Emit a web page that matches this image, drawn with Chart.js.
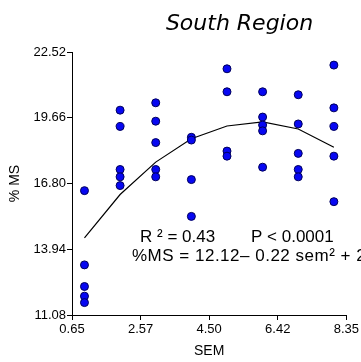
<!DOCTYPE html>
<html>
<head>
<meta charset="utf-8">
<script src="https://cdn.jsdelivr.net/npm/chart.js@4/dist/chart.umd.min.js"></script>
<style>
  html, body { margin: 0; padding: 0; background: #ffffff; }
  #wrap { width: 361px; height: 362px; }
</style>
</head>
<body>
<div id="wrap"><canvas id="c" width="361" height="362"></canvas></div>
<script>
// Observed %MS for each SEM score
const semObs = [1, 1, 1, 1, 1,
                2, 2, 2, 2, 2,
                3, 3, 3, 3, 3,
                4, 4, 4, 4,
                5, 5, 5, 5,
                6, 6, 6, 6, 6,
                7, 7, 7, 7, 7,
                8, 8, 8, 8, 8];
const msObs = [16.49, 13.26, 12.32, 11.90, 11.62,
               19.99, 19.28, 17.41, 17.09, 16.71,
               20.31, 19.51, 18.58, 17.41, 17.09,
               18.81, 18.69, 16.97, 15.37,
               21.79, 20.79, 18.21, 17.99,
               20.79, 19.69, 19.34, 19.09, 17.51,
               20.66, 19.39, 18.11, 17.41, 17.09,
               21.95, 20.09, 19.28, 17.99, 16.01];

// Quadratic fit evaluated at each SEM score
const fitSem = [1, 2, 3, 4, 5, 6, 7, 8];
const fitMs = [14.43, 16.32, 17.73, 18.75, 19.30, 19.48, 19.17, 18.38];

// Axis ticks
const xTickValues = [0.65, 2.575, 4.50, 6.425, 8.35];
const xTickLabels = ['0.65', '2.57', '4.50', '6.42', '8.35'];
const yTickValues = [11.08, 13.94, 16.80, 19.66, 22.52];
const yTickLabels = ['11.08', '13.94', '16.80', '19.66', '22.52'];

const titleText = 'South Region';
const statLine1a = 'R \u00B2 = 0.43';
const statLine1b = 'P < 0.0001';
const statLine2 = '%MS = 12.12\u2013 0.22 sem\u00B2 + 2.54 sem';

const FONT = '"Liberation Sans", Arial, Helvetica, sans-serif';

const scatterPoints = semObs.map((x, i) => ({ x: x, y: msObs[i] }));
const fitPoints = fitSem.map((x, i) => ({ x: x, y: fitMs[i] }));

// Title and regression statistics drawn onto the canvas
const textPlugin = {
  id: 'textNotes',
  afterDraw(chart) {
    const ctx = chart.ctx;
    const a = chart.chartArea;
    ctx.save();
    ctx.fillStyle = '#000000';
    ctx.font = 'italic 22px "DejaVu Sans", Verdana, sans-serif';
    ctx.textAlign = 'center';
    ctx.textBaseline = 'alphabetic';
    ctx.fillText(titleText, a.left + 167.5, 29.5);

    ctx.font = '17px ' + FONT;
    ctx.textAlign = 'left';
    ctx.fillText(statLine1a, a.left + 68, 241.5);
    ctx.fillText(statLine1b, a.left + 179, 241.5);
    ctx.letterSpacing = '0.5px';
    ctx.fillText(statLine2, a.left + 60, 260.5);
    ctx.restore();
  }
};

new Chart(document.getElementById('c'), {
  type: 'scatter',
  data: {
    datasets: [
      {
        label: 'observed',
        data: scatterPoints,
        backgroundColor: '#0707f2',
        borderColor: '#00005a',
        borderWidth: 1,
        pointRadius: 4,
        order: 1
      },
      {
        label: 'fit',
        type: 'line',
        data: fitPoints,
        borderColor: '#000000',
        borderWidth: 1.2,
        pointRadius: 0,
        tension: 0,
        fill: false,
        order: 2
      }
    ]
  },
  options: {
    responsive: false,
    animation: false,
    events: [],
    layout: { padding: { top: 52, right: 14, left: 0, bottom: 0 } },
    plugins: {
      legend: { display: false },
      tooltip: { enabled: false },
      title: { display: false }
    },
    scales: {
      x: {
        type: 'linear',
        min: 0.65,
        max: 8.35,
        afterBuildTicks: s => { s.ticks = xTickValues.map(v => ({ value: v })); },
        afterFit: s => { s.height = 47; },
        ticks: {
          color: '#000000',
          font: { family: FONT, size: 13 },
          padding: 2,
          maxRotation: 0,
          callback: (v, i) => xTickLabels[i]
        },
        grid: { display: true, drawOnChartArea: false, drawTicks: true, tickLength: 5, color: '#000000' },
        border: { display: true, color: '#000000', width: 1 },
        title: {
          display: true,
          text: 'SEM',
          color: '#000000',
          font: { family: FONT, size: 14 },
          padding: { top: 0, bottom: 2 }
        }
      },
      y: {
        type: 'linear',
        min: 11.08,
        max: 22.52,
        afterBuildTicks: s => { s.ticks = yTickValues.map(v => ({ value: v })); },
        afterFit: s => { s.width = 72; },
        ticks: {
          color: '#000000',
          font: { family: FONT, size: 13 },
          padding: 1,
          callback: (v, i) => yTickLabels[i]
        },
        grid: { display: true, drawOnChartArea: false, drawTicks: true, tickLength: 5, color: '#000000' },
        border: { display: true, color: '#000000', width: 1 },
        title: {
          display: true,
          text: '% MS',
          color: '#000000',
          font: { family: FONT, size: 14 },
          padding: { top: 6.5, bottom: 0 }
        }
      }
    }
  },
  plugins: [textPlugin]
});
</script>
</body>
</html>
